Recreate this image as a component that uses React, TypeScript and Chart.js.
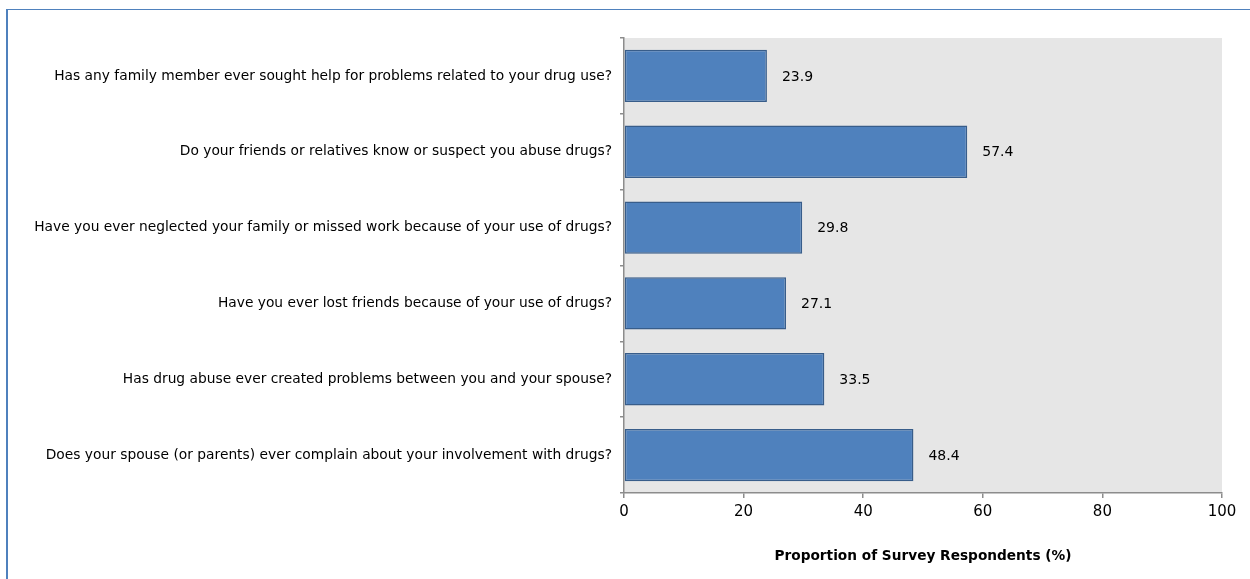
import React, { useEffect, useRef } from "react";
import { Chart, registerables } from "chart.js";

Chart.register(...registerables);

const categories = [
  "Has any family member ever sought help for problems related to your drug use?",
  "Do your friends or relatives know or suspect you abuse drugs?",
  "Have you ever neglected your family or missed work because of your use of drugs?",
  "Have you ever lost friends because of your use of drugs?",
  "Has drug abuse ever created problems between you and your spouse?",
  "Does your spouse (or parents) ever complain about your involvement with drugs?",
];
const values = [23.9, 57.4, 29.8, 27.1, 33.5, 48.4];
const xTicks = [0, 20, 40, 60, 80, 100];
const xTitle = "Proportion of Survey Respondents (%)";

const FONT = "'DejaVu Sans', sans-serif";

const bgPlugin = {
  id: "plotBg",
  beforeDraw(chart: any) {
    const { ctx, chartArea } = chart;
    ctx.save();
    ctx.fillStyle = "#e6e6e6";
    ctx.fillRect(chartArea.left, chartArea.top, chartArea.right - chartArea.left, chartArea.bottom - chartArea.top);
    ctx.restore();
  },
};

const labelPlugin = {
  id: "valueLabels",
  afterDatasetsDraw(chart: any) {
    const { ctx } = chart;
    const meta = chart.getDatasetMeta(0);
    ctx.save();
    ctx.font = `14px ${FONT}`;
    ctx.fillStyle = "#000";
    ctx.textAlign = "left";
    ctx.textBaseline = "middle";
    meta.data.forEach((el: any, i: number) => {
      ctx.fillText(values[i].toFixed(1), el.x + 15, el.y + 1);
    });
    ctx.restore();
  },
};

export default function App() {
  const ref = useRef<HTMLCanvasElement>(null);
  useEffect(() => {
    const chart = new Chart(ref.current!, {
      type: "bar",
      data: {
        labels: categories,
        datasets: [
          {
            data: values,
            backgroundColor: "#4f81bd",
            borderColor: "#385d8a",
            borderWidth: 1.5,
            borderSkipped: false,
            barPercentage: 0.69,
            categoryPercentage: 1,
          },
        ],
      },
      options: {
        indexAxis: "y",
        animation: false,
        responsive: false,
        maintainAspectRatio: false,
        layout: { padding: { top: 38, right: 28, left: 0, bottom: 14 } },
        plugins: { legend: { display: false }, tooltip: { enabled: false } },
        scales: {
          x: {
            min: 0,
            max: 100,
            afterBuildTicks(scale: any) {
              scale.ticks = xTicks.map((v) => ({ value: v }));
            },
            afterFit(scale: any) {
              scale.height = 72;
            },
            grid: { drawOnChartArea: false, drawTicks: true, tickLength: 5, color: "#8c8c8c", lineWidth: 1.5 },
            border: { display: true, color: "#8c8c8c", width: 1.5 },
            ticks: { color: "#000", font: { family: FONT, size: 15 }, padding: 5 },
            title: {
              display: true,
              text: xTitle,
              color: "#000",
              font: { family: FONT, size: 13.7, weight: "bold" },
              padding: { top: 18, bottom: 0 },
            },
          },
          y: {
            afterFit(scale: any) {
              scale.width = 624;
            },
            grid: { drawOnChartArea: false, drawTicks: true, tickLength: 4, color: "#8c8c8c", lineWidth: 1.5, offset: true },
            border: { display: true, color: "#8c8c8c", width: 1.5 },
            ticks: { color: "#000", font: { family: FONT, size: 13.8 }, padding: 8 },
          },
        },
      },
      plugins: [bgPlugin, labelPlugin],
    } as any);
    return () => chart.destroy();
  }, []);
  return (
    <div style={{ position: "fixed", left: 0, top: 0, width: 1250, height: 579, background: "#fff", overflow: "hidden" }}>
      <div
        style={{
          position: "absolute",
          left: 6,
          top: 9,
          width: 1260,
          height: 600,
          borderLeft: "2px solid #4f81bd",
          borderTop: "1.5px solid #4f81bd",
        }}
      />
      <canvas ref={ref} width={1250} height={579} style={{ position: "absolute", left: 0, top: 0 }} />
    </div>
  );
}
